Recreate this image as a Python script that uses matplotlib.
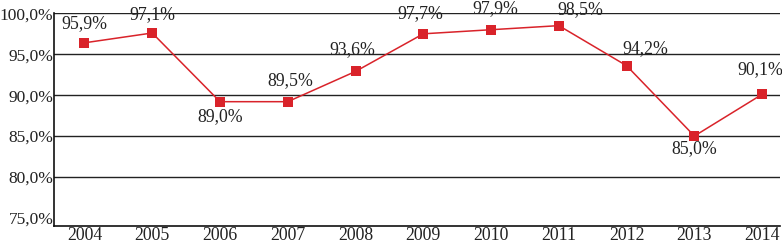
import matplotlib
matplotlib.use('Agg')
import matplotlib.pyplot as plt
from matplotlib.ticker import FuncFormatter

# dados
anos = [2004, 2005, 2006, 2007, 2008, 2009, 2010, 2011, 2012, 2013, 2014]
valores = [96.4, 97.6, 89.2, 89.2, 92.9, 97.5, 98.0, 98.5, 93.6, 85.0, 90.1]
rotulos = ['95,9%', '97,1%', '89,0%', '89,5%', '93,6%', '97,7%', '97,9%',
           '98,5%', '94,2%', '85,0%', '90,1%']
yticks = [75, 80, 85, 90, 95, 100]

# deslocamento dos rotulos (pixels)
desloc = [(0, 19), (0, 18), (0, -15), (3, 21), (-3, 22), (-3, 20), (4, 21),
          (21, 16), (19, 17), (0, -13), (-2, 25)]

plt.rcParams['font.family'] = ['Liberation Serif', 'DejaVu Serif']
plt.rcParams['font.size'] = 12.8

fig = plt.figure(figsize=(7.82, 2.43), dpi=100)
ax = fig.add_axes([0.069, 0.07, 0.929, 0.875])

for y in [80, 85, 90, 95, 100]:
    ax.axhline(y, color='#222222', lw=1.0, zorder=1)

ax.plot(anos, valores, color='#d9232a', lw=1.1, marker='s', ms=7.5,
        markeredgewidth=0, zorder=3)

for x, v, t, (dx, dy) in zip(anos, valores, rotulos, desloc):
    ax.annotate(t, (x, v), xytext=(dx, dy), textcoords='offset pixels',
                ha='center', va='center', color='#222222', annotation_clip=False)

ax.set_xlim(2003.55, 2014.27)
ax.set_ylim(74.0, 100.0)
ax.set_xticks(anos)
ax.set_yticks(yticks)
ax.yaxis.set_major_formatter(FuncFormatter(lambda v, p: f'{v:.1f}%'.replace('.', ',')))
ax.tick_params(axis='y', length=0, pad=0.5, colors='#222222', labelsize=12.5)
ax.tick_params(axis='x', length=0, pad=1, colors='#222222')
for s in ['top', 'right']:
    ax.spines[s].set_visible(False)
ax.spines['left'].set_color('#111111')
ax.spines['bottom'].set_color('#111111')
ax.spines['left'].set_linewidth(1.2)
ax.spines['bottom'].set_linewidth(1.2)

fig.savefig('out.png', dpi=100)
